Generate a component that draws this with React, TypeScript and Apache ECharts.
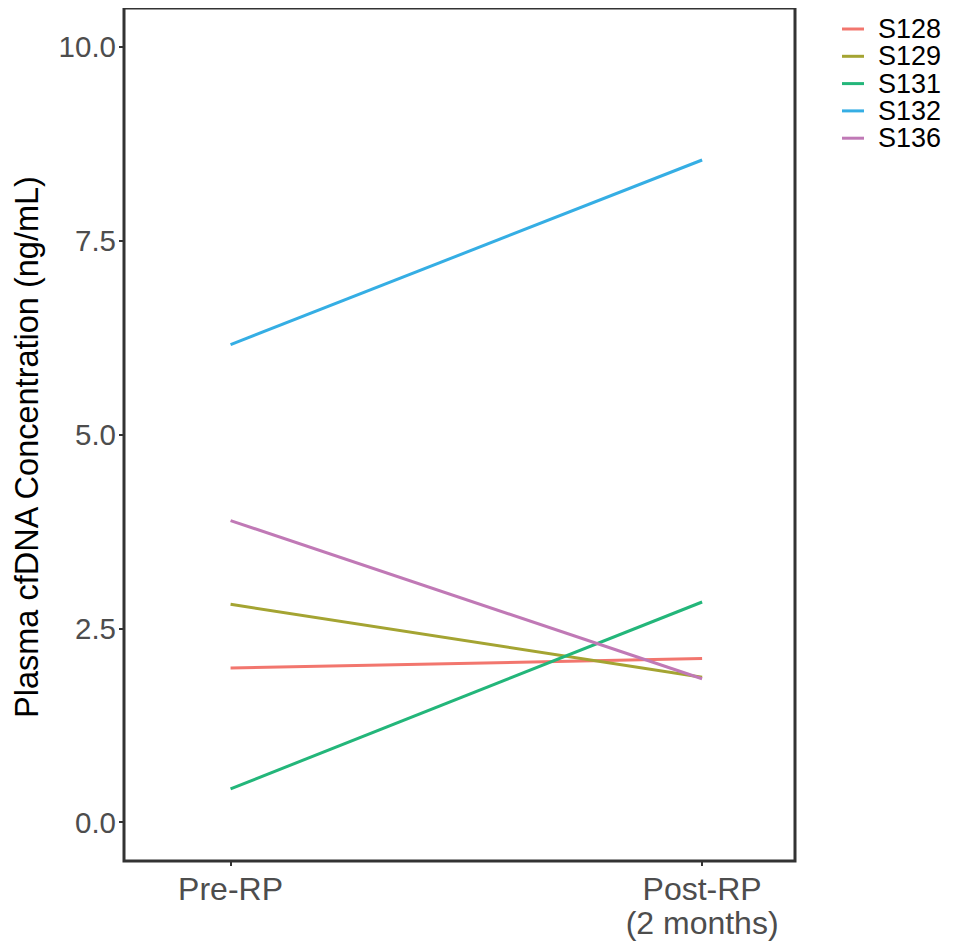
import React, { useEffect, useRef } from "react";
import * as echarts from "echarts";

// Timepoints (x positions 1 and 2) and their labels
const timepoints = [1, 2];
const timepointLabels: Record<number, string> = {
  1: "Pre-RP",
  2: "Post-RP\n(2 months)",
};

// Patient IDs and plasma cfDNA (ng/mL) before / after radical prostatectomy
const patients = ["S128", "S129", "S131", "S132", "S136"];
const preRP = [1.99, 2.81, 0.43, 6.16, 3.89];
const postRP = [2.11, 1.87, 2.84, 8.54, 1.85];
const patientColors = ["#F2766E", "#A4A432", "#23B67A", "#35AEE4", "#C079B6"];

// Y-axis ticks
const yTicks = [0, 2.5, 5, 7.5, 10];

const yTitle = "Plasma cfDNA Concentration (ng/mL)";

const FONT = "'Liberation Sans', Arial, sans-serif";

export default function App() {
  const ref = useRef<HTMLDivElement>(null);

  useEffect(() => {
    if (!ref.current) return;
    const chart = echarts.init(ref.current, undefined, { renderer: "svg" });

    const series = patients.map((p, i) => ({
      name: p,
      type: "line" as const,
      data: [
        [timepoints[0], preRP[i]],
        [timepoints[1], postRP[i]],
      ],
      showSymbol: false,
      symbol: "none",
      lineStyle: { color: patientColors[i], width: 3 },
      itemStyle: { color: patientColors[i] },
      z: 3,
    }));

    chart.setOption({
      animation: false,
      backgroundColor: "#ffffff",
      grid: {
        left: 124,
        right: 161,
        top: 8,
        bottom: 90,
        show: true,
        borderColor: "#333333",
        borderWidth: 3,
        backgroundColor: "#ffffff",
        containLabel: false,
      },
      legend: {
        orient: "vertical",
        left: 842,
        top: 15.5,
        padding: 0,
        itemGap: 0.3,
        itemWidth: 22,
        itemHeight: 3,
        icon: "rect",
        data: patients,
        textStyle: {
          fontFamily: FONT,
          fontSize: 27,
          color: "#000000",
          padding: [0, 0, 0, 9],
        },
      },
      graphic: [
        {
          type: "text",
          x: 27,
          y: 447,
          rotation: Math.PI / 2,
          style: {
            text: yTitle,
            fontFamily: FONT,
            fontSize: 32.5,
            fill: "#000000",
            align: "center",
            verticalAlign: "middle",
          },
        },
      ],
      xAxis: {
        type: "value",
        min: 0.774,
        max: 2.197,
        splitLine: { show: false },
        axisLine: { show: false, onZero: false },
        axisTick: {
          show: true,
          customValues: timepoints,
          length: 5,
          lineStyle: { color: "#333333", width: 2 },
        },
        axisLabel: {
          customValues: timepoints,
          formatter: (v: number) => timepointLabels[Math.round(v)] ?? "",
          fontFamily: FONT,
          fontSize: 32,
          lineHeight: 34,
          color: "#4D4D4D",
          margin: 11,
          align: "center",
        },
      },
      yAxis: {
        type: "value",
        min: -0.5,
        max: 10.5,
        splitLine: { show: false },
        axisLine: { show: false, onZero: false },
        axisTick: {
          show: true,
          customValues: yTicks,
          length: 5,
          lineStyle: { color: "#333333", width: 2 },
        },
        axisLabel: {
          customValues: yTicks,
          formatter: (v: number) => v.toFixed(1),
          fontFamily: FONT,
          fontSize: 29.5,
          color: "#4D4D4D",
          margin: 8,
        },
      },
      series,
    });

    return () => chart.dispose();
  }, []);

  return <div ref={ref} style={{ width: 956, height: 951, margin: -8 }} />;
}
